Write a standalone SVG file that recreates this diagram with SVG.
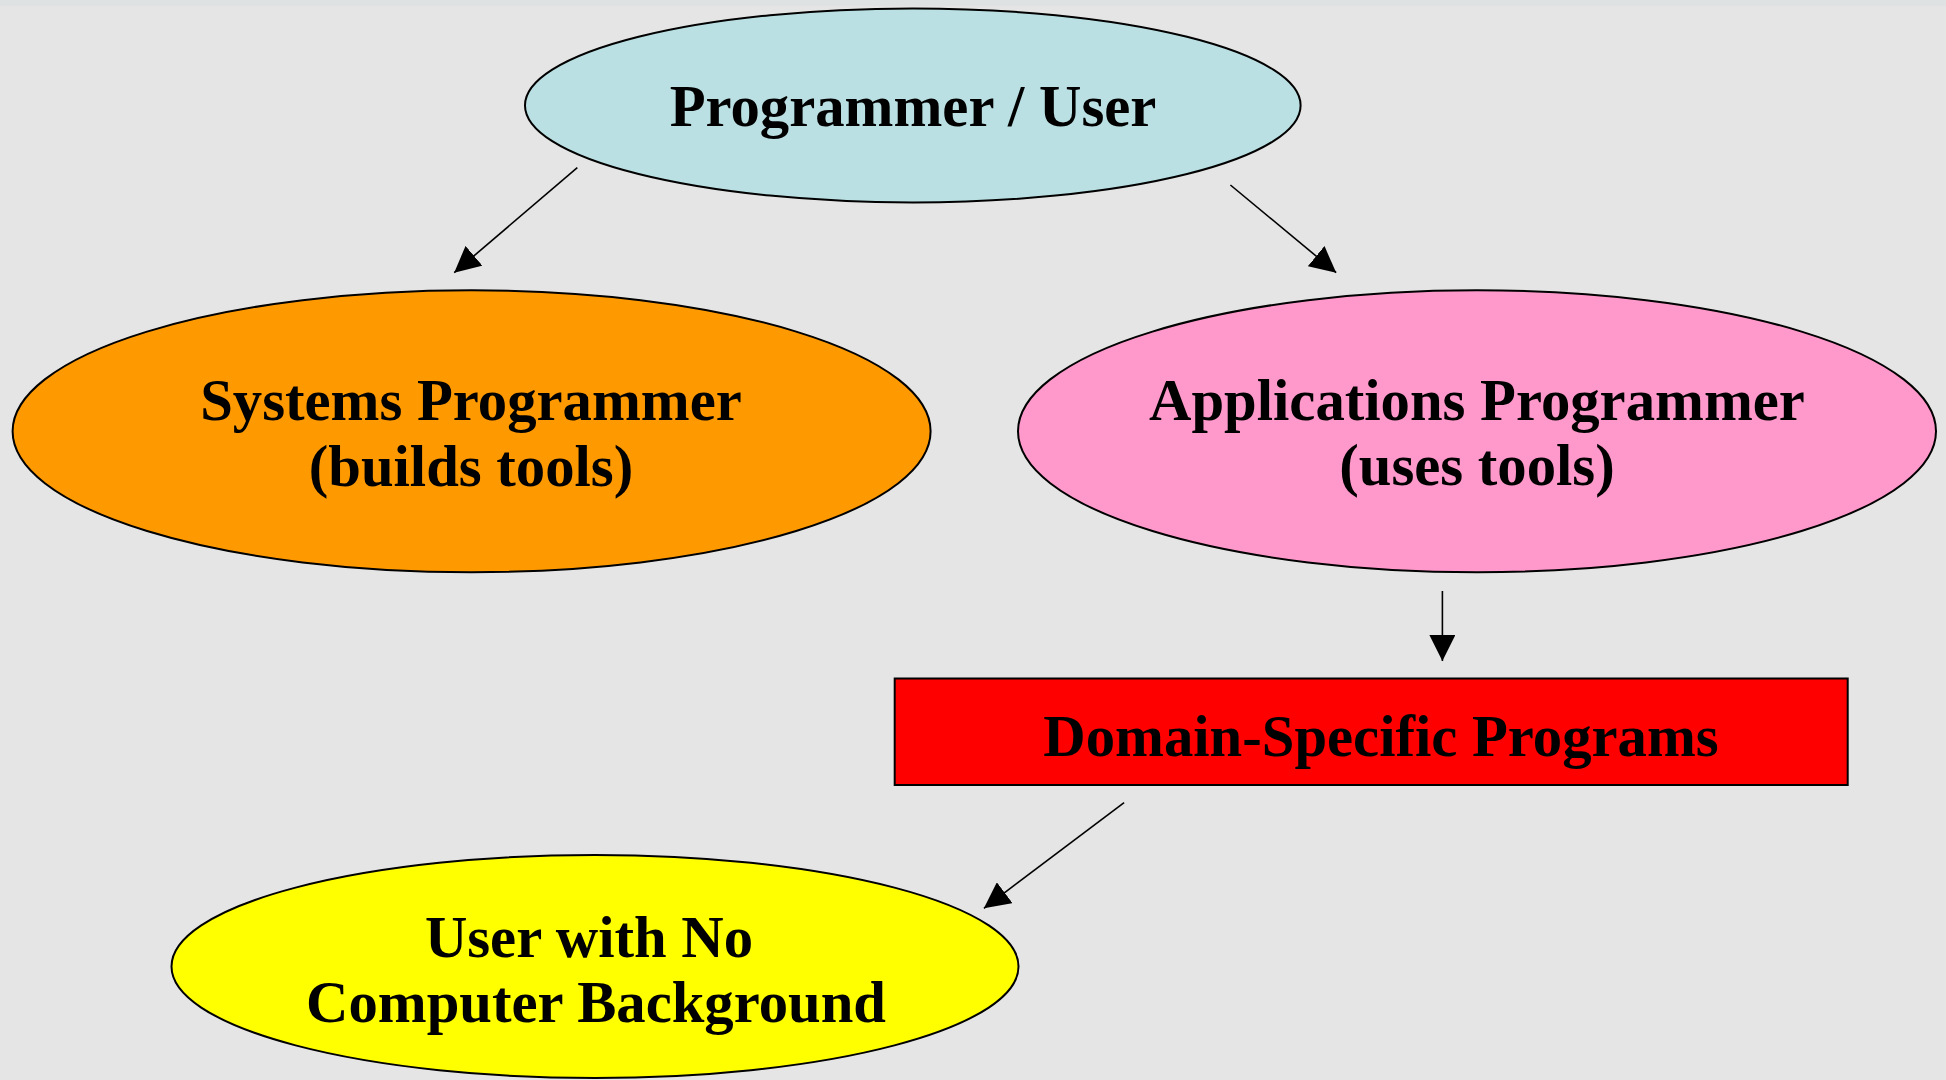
<svg xmlns="http://www.w3.org/2000/svg" width="1946" height="1080" viewBox="0 0 1946 1080">
  <style>
    .node { stroke: #000; stroke-width: 2; }
    .label { font-family: "Liberation Serif", "Times New Roman", serif; font-weight: bold; font-size: 58.7px; fill: #000; text-anchor: middle; }
    .edge { stroke: #000; stroke-width: 1.6; fill: none; marker-end: url(#head); }
  </style>
  <defs>
    <marker id="head" markerUnits="userSpaceOnUse" markerWidth="26" markerHeight="26" refX="26" refY="13" orient="auto">
      <path d="M0,0 L26,13 L0,26 z" fill="#000"/>
    </marker>
  </defs>

  <!-- background -->
  <rect x="0" y="0" width="1946" height="1080" fill="#e5e5e5"/>
  <rect x="0" y="0" width="1946" height="6" fill="#dee2e3"/>

  <!-- connectors -->
  <g id="connectors">
    <line class="edge" x1="577.3" y1="167.7" x2="454.2" y2="272.7"/>
    <line class="edge" x1="1230.4" y1="185" x2="1336.2" y2="272.7"/>
    <line class="edge" x1="1442.4" y1="591" x2="1442.4" y2="661"/>
    <line class="edge" x1="1124.1" y1="802.7" x2="983.9" y2="908.3"/>
  </g>

  <!-- nodes -->
  <g id="programmer-user">
    <ellipse class="node" cx="912.8" cy="105.4" rx="387.8" ry="97" fill="#bae0e3"/>
    <text class="label" x="913" y="126">Programmer / User</text>
  </g>

  <g id="systems-programmer">
    <ellipse class="node" cx="471.6" cy="431.3" rx="459" ry="141" fill="#ff9900"/>
    <text class="label" x="471" y="420">Systems Programmer</text>
    <text class="label" x="471" y="486">(builds tools)</text>
  </g>

  <g id="applications-programmer">
    <ellipse class="node" cx="1477" cy="431.3" rx="459" ry="141" fill="#ff99cc"/>
    <text class="label" x="1477" y="420">Applications Programmer</text>
    <text class="label" x="1477" y="485">(uses tools)</text>
  </g>

  <g id="domain-specific-programs">
    <rect class="node" x="894.7" y="678.5" width="953" height="106.5" fill="#ff0000" stroke-width="1.6"/>
    <text class="label" x="1381" y="756">Domain-Specific Programs</text>
  </g>

  <g id="end-user">
    <ellipse class="node" cx="595" cy="966.5" rx="423.5" ry="111.5" fill="#ffff00"/>
    <text class="label" x="589" y="957">User with No</text>
    <text class="label" x="596" y="1022">Computer Background</text>
  </g>
</svg>
